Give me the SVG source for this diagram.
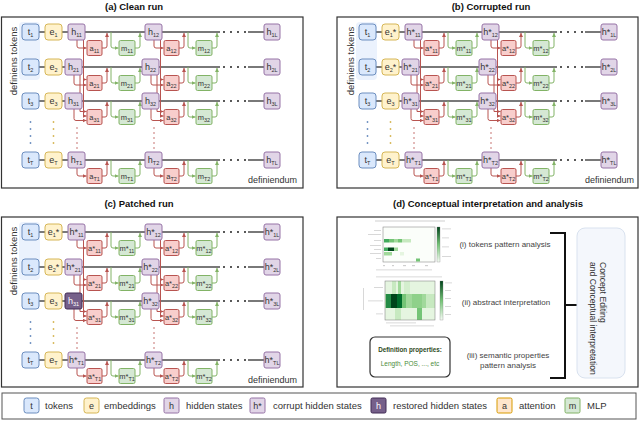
<svg xmlns="http://www.w3.org/2000/svg" width="640" height="422" viewBox="0 0 640 422">
<defs>
<style>
.pb{fill:#fff;stroke:#333;stroke-width:1.2}
.ti{font:bold 9.5px "Liberation Sans",Arial,sans-serif;fill:#111;text-anchor:middle}
.tx{font-family:"Liberation Sans",Arial,sans-serif;fill:#333}
.nt{fill:#dae8fc;stroke:#6c8ebf}
.ne{fill:#fff2cc;stroke:#d6b656}
.nh{fill:#e1d5e7;stroke:#9673a6}
.nr{fill:#76608a;stroke:#432d57}
.na{fill:#f8cecc;stroke:#b85450}
.nm{fill:#d5e8d4;stroke:#82b366}
.l{font:9px "Liberation Sans",Arial,sans-serif;fill:#333;text-anchor:middle}
.l2{font:7.5px "Liberation Sans",Arial,sans-serif;fill:#333;text-anchor:middle}
.w{fill:#fff}
.s{font-size:5.5px}
.rl{fill:none;stroke:#4d4d4d;stroke-width:1.3}
.dt{fill:none;stroke:#222;stroke-width:2;stroke-linecap:round;stroke-dasharray:0 7}
.dv{fill:none;stroke-width:1.8;stroke-linecap:round;stroke-dasharray:0 7}
.rd{fill:none;stroke:#b85450;stroke-width:1.5;stroke-linecap:round;stroke-dasharray:0 5}
.ra{fill:none;stroke:#b85450;stroke-width:1;marker-end:url(#mr)}
.ga{fill:none;stroke:#82b366;stroke-width:1;marker-end:url(#mg)}
.bg{fill:#dae8fc;opacity:.55}
.gb{fill:#cfcfcf}
</style>
<marker id="mr" viewBox="0 0 6 6" refX="6" refY="3" markerWidth="4" markerHeight="4" orient="auto"><path d="M0,0L6,3L0,6z" fill="#b85450"/></marker>
<marker id="mg" viewBox="0 0 6 6" refX="6" refY="3" markerWidth="4" markerHeight="4" orient="auto"><path d="M0,0L6,3L0,6z" fill="#82b366"/></marker>
<linearGradient id="cb" x1="0" y1="1" x2="0" y2="0"><stop offset="0" stop-color="#f7fcf5"/><stop offset=".5" stop-color="#74c476"/><stop offset="1" stop-color="#00441b"/></linearGradient>
<g id="cn">
<path class="rl" d="M39,32H220M248,32H264M39,67H220M248,67H264M39,101H220M248,101H264M39,160H220M248,160H264"/>
<path class="dt" d="M224,32H246M224,67H246M224,101H246M224,160H246"/>
<path class="dv" stroke="#6c8ebf" d="M30.5,122V144"/>
<path class="dv" stroke="#d6b656" d="M53.5,122V144"/>
<path class="rd" d="M77,128V150M154,128V150"/>
<path class="ra" d="M77,40V46Q77,48 79,48H86.5"/>
<path class="ra" d="M154,40V46Q154,48 156,48H163.5"/>
<path class="ra" d="M83.5,40V79.5H86.5"/>
<path class="ra" d="M160.5,40V79.5H163.5"/>
<path class="ra" d="M74,75V83Q74,85 76,85H86.5"/>
<path class="ra" d="M151,75V83Q151,85 153,85H163.5"/>
<path class="ra" d="M80,75V111.5H86.5"/>
<path class="ra" d="M157,75V111.5H163.5"/>
<path class="ra" d="M83.5,79.5V116H86.5"/>
<path class="ra" d="M160.5,79.5V116H163.5"/>
<path class="ra" d="M74,109V118.5Q74,120.5 76,120.5H86.5"/>
<path class="ra" d="M151,109V118.5Q151,120.5 153,120.5H163.5"/>
<path class="ra" d="M77,168V174Q77,176 79,176H86.5"/>
<path class="ra" d="M154,168V174Q154,176 156,176H163.5"/>
<path class="ra" d="M102,48H105Q107,48 107,46V33"/>
<path class="ra" d="M179,48H182Q184,48 184,46V33"/>
<path class="ra" d="M102,83H105Q107,83 107,81V68"/>
<path class="ra" d="M179,83H182Q184,83 184,81V68"/>
<path class="ra" d="M102,117H105Q107,117 107,115V102"/>
<path class="ra" d="M179,117H182Q184,117 184,115V102"/>
<path class="ra" d="M102,176H105Q107,176 107,174V161"/>
<path class="ra" d="M179,176H182Q184,176 184,174V161"/>
<path class="ga" d="M111,32V46Q111,48 113,48H118.5"/>
<path class="ga" d="M188,32V46Q188,48 190,48H195.5"/>
<path class="ga" d="M135,48H138Q140,48 140,46V33"/>
<path class="ga" d="M212,48H215Q217,48 217,46V33"/>
<path class="ga" d="M111,67V81Q111,83 113,83H118.5"/>
<path class="ga" d="M188,67V81Q188,83 190,83H195.5"/>
<path class="ga" d="M135,83H138Q140,83 140,81V68"/>
<path class="ga" d="M212,83H215Q217,83 217,81V68"/>
<path class="ga" d="M111,101V115Q111,117 113,117H118.5"/>
<path class="ga" d="M188,101V115Q188,117 190,117H195.5"/>
<path class="ga" d="M135,117H138Q140,117 140,115V102"/>
<path class="ga" d="M212,117H215Q217,117 217,115V102"/>
<path class="ga" d="M111,160V174Q111,176 113,176H118.5"/>
<path class="ga" d="M188,160V174Q188,176 190,176H195.5"/>
<path class="ga" d="M135,176H138Q140,176 140,174V161"/>
<path class="ga" d="M212,176H215Q217,176 217,174V161"/>
</g>
</defs>

<rect width="640" height="422" fill="#fff"/>

<text class="ti" x="134" y="10">(a) Clean run</text>
<text class="ti" x="491" y="10">(b) Corrupted run</text>
<text class="ti" x="139" y="207">(c) Patched run</text>
<text class="ti" x="488" y="207">(d) Conceptual interpretation and analysis</text>
<rect class="pb" x="1.5" y="17" width="301.5" height="171"/>
<rect class="pb" x="337" y="17" width="301" height="171"/>
<rect class="pb" x="1.5" y="217" width="301.5" height="170"/>
<rect class="pb" x="337" y="217" width="301" height="170"/>

<rect class="bg" x="19" y="22" width="21" height="58" rx="4"/>
<rect class="bg" x="356" y="22" width="21" height="58" rx="4"/>
<rect class="bg" x="19" y="222" width="21" height="58" rx="4"/>
<text class="tx" font-size="9.5" text-anchor="middle" transform="translate(16.5,61) rotate(-90)">definiens tokens</text>
<text class="tx" font-size="9.5" text-anchor="middle" transform="translate(353.5,61) rotate(-90)">definiens tokens</text>
<text class="tx" font-size="9.5" text-anchor="middle" transform="translate(16.5,261) rotate(-90)">definiens tokens</text>
<text class="tx" font-size="9" text-anchor="end" x="297" y="183">definiendum</text>
<text class="tx" font-size="9" text-anchor="end" x="634" y="183">definiendum</text>
<text class="tx" font-size="9" text-anchor="end" x="297" y="383">definiendum</text>

<g id="connectors">
<use href="#cn"/>
<use href="#cn" transform="translate(337,0)"/>
<use href="#cn" transform="translate(0,200)"/>
</g>

<!-- ===== Panel (a) ===== -->
<g id="a-t1"><rect class="nt" x="22" y="24" width="17" height="16" rx="3"/><text class="l" x="30.5" y="35">t<tspan class="s" dy="2">1</tspan></text></g>
<g id="a-e1"><rect class="ne" x="45" y="24" width="17" height="16" rx="3"/><text class="l" x="53.5" y="35">e<tspan class="s" dy="2">1</tspan></text></g>
<g id="a-h11"><rect class="nh" x="68" y="24" width="17" height="16" rx="2"/><text class="l" x="76.5" y="35">h<tspan class="s" dy="2">11</tspan></text></g>
<g id="a-a11"><rect class="na" x="87" y="40.5" width="15" height="15" rx="1.5"/><text class="l2" x="94.5" y="51">a<tspan class="s" dy="2">11</tspan></text></g>
<g id="a-m11"><rect class="nm" x="119" y="40.5" width="16" height="15" rx="1.5"/><text class="l2" x="127" y="51">m<tspan class="s" dy="2">11</tspan></text></g>
<g id="a-h12"><rect class="nh" x="145" y="24" width="17" height="16" rx="2"/><text class="l" x="153.5" y="35">h<tspan class="s" dy="2">12</tspan></text></g>
<g id="a-a12"><rect class="na" x="164" y="40.5" width="15" height="15" rx="1.5"/><text class="l2" x="171.5" y="51">a<tspan class="s" dy="2">12</tspan></text></g>
<g id="a-m12"><rect class="nm" x="196" y="40.5" width="16" height="15" rx="1.5"/><text class="l2" x="204" y="51">m<tspan class="s" dy="2">12</tspan></text></g>
<g id="a-h1L"><rect class="nh" x="264" y="24" width="16" height="16" rx="2"/><text class="l" x="272" y="35">h<tspan class="s" dy="2">1L</tspan></text></g>

<g id="a-t2"><rect class="nt" x="22" y="59" width="17" height="16" rx="3"/><text class="l" x="30.5" y="70">t<tspan class="s" dy="2">2</tspan></text></g>
<g id="a-e2"><rect class="ne" x="45" y="59" width="17" height="16" rx="3"/><text class="l" x="53.5" y="70">e<tspan class="s" dy="2">2</tspan></text></g>
<g id="a-h21"><rect class="nh" x="65" y="59" width="17" height="16" rx="2"/><text class="l" x="73.5" y="70">h<tspan class="s" dy="2">21</tspan></text></g>
<g id="a-a21"><rect class="na" x="87" y="75.5" width="15" height="15" rx="1.5"/><text class="l2" x="94.5" y="86">a<tspan class="s" dy="2">21</tspan></text></g>
<g id="a-m21"><rect class="nm" x="119" y="75.5" width="16" height="15" rx="1.5"/><text class="l2" x="127" y="86">m<tspan class="s" dy="2">21</tspan></text></g>
<g id="a-h22"><rect class="nh" x="142" y="59" width="17" height="16" rx="2"/><text class="l" x="150.5" y="70">h<tspan class="s" dy="2">22</tspan></text></g>
<g id="a-a22"><rect class="na" x="164" y="75.5" width="15" height="15" rx="1.5"/><text class="l2" x="171.5" y="86">a<tspan class="s" dy="2">22</tspan></text></g>
<g id="a-m22"><rect class="nm" x="196" y="75.5" width="16" height="15" rx="1.5"/><text class="l2" x="204" y="86">m<tspan class="s" dy="2">22</tspan></text></g>
<g id="a-h2L"><rect class="nh" x="264" y="59" width="16" height="16" rx="2"/><text class="l" x="272" y="70">h<tspan class="s" dy="2">2L</tspan></text></g>

<g id="a-t3"><rect class="nt" x="22" y="93" width="17" height="16" rx="3"/><text class="l" x="30.5" y="104">t<tspan class="s" dy="2">3</tspan></text></g>
<g id="a-e3"><rect class="ne" x="45" y="93" width="17" height="16" rx="3"/><text class="l" x="53.5" y="104">e<tspan class="s" dy="2">3</tspan></text></g>
<g id="a-h31"><rect class="nh" x="65" y="93" width="17" height="16" rx="2"/><text class="l" x="73.5" y="104">h<tspan class="s" dy="2">31</tspan></text></g>
<g id="a-a31"><rect class="na" x="87" y="109.5" width="15" height="15" rx="1.5"/><text class="l2" x="94.5" y="120">a<tspan class="s" dy="2">31</tspan></text></g>
<g id="a-m31"><rect class="nm" x="119" y="109.5" width="16" height="15" rx="1.5"/><text class="l2" x="127" y="120">m<tspan class="s" dy="2">31</tspan></text></g>
<g id="a-h32"><rect class="nh" x="142" y="93" width="17" height="16" rx="2"/><text class="l" x="150.5" y="104">h<tspan class="s" dy="2">32</tspan></text></g>
<g id="a-a32"><rect class="na" x="164" y="109.5" width="15" height="15" rx="1.5"/><text class="l2" x="171.5" y="120">a<tspan class="s" dy="2">32</tspan></text></g>
<g id="a-m32"><rect class="nm" x="196" y="109.5" width="16" height="15" rx="1.5"/><text class="l2" x="204" y="120">m<tspan class="s" dy="2">32</tspan></text></g>
<g id="a-h3L"><rect class="nh" x="264" y="93" width="16" height="16" rx="2"/><text class="l" x="272" y="104">h<tspan class="s" dy="2">3L</tspan></text></g>

<g id="a-tT"><rect class="nt" x="22" y="152" width="17" height="16" rx="3"/><text class="l" x="30.5" y="163">t<tspan class="s" dy="2">T</tspan></text></g>
<g id="a-eT"><rect class="ne" x="45" y="152" width="17" height="16" rx="3"/><text class="l" x="53.5" y="163">e<tspan class="s" dy="2">T</tspan></text></g>
<g id="a-hT1"><rect class="nh" x="68" y="152" width="17" height="16" rx="2"/><text class="l" x="76.5" y="163">h<tspan class="s" dy="2">T1</tspan></text></g>
<g id="a-aT1"><rect class="na" x="87" y="168.5" width="15" height="15" rx="1.5"/><text class="l2" x="94.5" y="179">a<tspan class="s" dy="2">T1</tspan></text></g>
<g id="a-mT1"><rect class="nm" x="119" y="168.5" width="16" height="15" rx="1.5"/><text class="l2" x="127" y="179">m<tspan class="s" dy="2">T1</tspan></text></g>
<g id="a-hT2"><rect class="nh" x="145" y="152" width="17" height="16" rx="2"/><text class="l" x="153.5" y="163">h<tspan class="s" dy="2">T2</tspan></text></g>
<g id="a-aT2"><rect class="na" x="164" y="168.5" width="15" height="15" rx="1.5"/><text class="l2" x="171.5" y="179">a<tspan class="s" dy="2">T2</tspan></text></g>
<g id="a-mT2"><rect class="nm" x="196" y="168.5" width="16" height="15" rx="1.5"/><text class="l2" x="204" y="179">m<tspan class="s" dy="2">T2</tspan></text></g>
<g id="a-hTL"><rect class="nh" x="264" y="152" width="16" height="16" rx="2"/><text class="l" x="272" y="163">h<tspan class="s" dy="2">TL</tspan></text></g>

<!-- ===== Panel (b) ===== -->
<g id="b-t1"><rect class="nt" x="359" y="24" width="17" height="16" rx="3"/><text class="l" x="367.5" y="35">t<tspan class="s" dy="2">1</tspan></text></g>
<g id="b-e1"><rect class="ne" x="382" y="24" width="17" height="16" rx="3"/><text class="l" x="390.5" y="35">e<tspan class="s" dy="2">1</tspan><tspan dy="-2">*</tspan></text></g>
<g id="b-h11"><rect class="nh" x="405" y="24" width="17" height="16" rx="2"/><text class="l" x="413.5" y="35">h*<tspan class="s" dy="2">11</tspan></text></g>
<g id="b-a11"><rect class="na" x="424" y="40.5" width="15" height="15" rx="1.5"/><text class="l2" x="431.5" y="51">a*<tspan class="s" dy="2">11</tspan></text></g>
<g id="b-m11"><rect class="nm" x="456" y="40.5" width="16" height="15" rx="1.5"/><text class="l2" x="464" y="51">m*<tspan class="s" dy="2">11</tspan></text></g>
<g id="b-h12"><rect class="nh" x="482" y="24" width="17" height="16" rx="2"/><text class="l" x="490.5" y="35">h*<tspan class="s" dy="2">12</tspan></text></g>
<g id="b-a12"><rect class="na" x="501" y="40.5" width="15" height="15" rx="1.5"/><text class="l2" x="508.5" y="51">a*<tspan class="s" dy="2">12</tspan></text></g>
<g id="b-m12"><rect class="nm" x="533" y="40.5" width="16" height="15" rx="1.5"/><text class="l2" x="541" y="51">m*<tspan class="s" dy="2">12</tspan></text></g>
<g id="b-h1L"><rect class="nh" x="601" y="24" width="16" height="16" rx="2"/><text class="l" x="609" y="35">h*<tspan class="s" dy="2">1L</tspan></text></g>

<g id="b-t2"><rect class="nt" x="359" y="59" width="17" height="16" rx="3"/><text class="l" x="367.5" y="70">t<tspan class="s" dy="2">2</tspan></text></g>
<g id="b-e2"><rect class="ne" x="382" y="59" width="17" height="16" rx="3"/><text class="l" x="390.5" y="70">e<tspan class="s" dy="2">2</tspan><tspan dy="-2">*</tspan></text></g>
<g id="b-h21"><rect class="nh" x="402" y="59" width="17" height="16" rx="2"/><text class="l" x="410.5" y="70">h*<tspan class="s" dy="2">21</tspan></text></g>
<g id="b-a21"><rect class="na" x="424" y="75.5" width="15" height="15" rx="1.5"/><text class="l2" x="431.5" y="86">a*<tspan class="s" dy="2">21</tspan></text></g>
<g id="b-m21"><rect class="nm" x="456" y="75.5" width="16" height="15" rx="1.5"/><text class="l2" x="464" y="86">m*<tspan class="s" dy="2">21</tspan></text></g>
<g id="b-h22"><rect class="nh" x="479" y="59" width="17" height="16" rx="2"/><text class="l" x="487.5" y="70">h*<tspan class="s" dy="2">22</tspan></text></g>
<g id="b-a22"><rect class="na" x="501" y="75.5" width="15" height="15" rx="1.5"/><text class="l2" x="508.5" y="86">a*<tspan class="s" dy="2">22</tspan></text></g>
<g id="b-m22"><rect class="nm" x="533" y="75.5" width="16" height="15" rx="1.5"/><text class="l2" x="541" y="86">m*<tspan class="s" dy="2">22</tspan></text></g>
<g id="b-h2L"><rect class="nh" x="601" y="59" width="16" height="16" rx="2"/><text class="l" x="609" y="70">h*<tspan class="s" dy="2">2L</tspan></text></g>

<g id="b-t3"><rect class="nt" x="359" y="93" width="17" height="16" rx="3"/><text class="l" x="367.5" y="104">t<tspan class="s" dy="2">3</tspan></text></g>
<g id="b-e3"><rect class="ne" x="382" y="93" width="17" height="16" rx="3"/><text class="l" x="390.5" y="104">e<tspan class="s" dy="2">3</tspan></text></g>
<g id="b-h31"><rect class="nh" x="402" y="93" width="17" height="16" rx="2"/><text class="l" x="410.5" y="104">h*<tspan class="s" dy="2">31</tspan></text></g>
<g id="b-a31"><rect class="na" x="424" y="109.5" width="15" height="15" rx="1.5"/><text class="l2" x="431.5" y="120">a*<tspan class="s" dy="2">31</tspan></text></g>
<g id="b-m31"><rect class="nm" x="456" y="109.5" width="16" height="15" rx="1.5"/><text class="l2" x="464" y="120">m*<tspan class="s" dy="2">31</tspan></text></g>
<g id="b-h32"><rect class="nh" x="479" y="93" width="17" height="16" rx="2"/><text class="l" x="487.5" y="104">h*<tspan class="s" dy="2">32</tspan></text></g>
<g id="b-a32"><rect class="na" x="501" y="109.5" width="15" height="15" rx="1.5"/><text class="l2" x="508.5" y="120">a*<tspan class="s" dy="2">32</tspan></text></g>
<g id="b-m32"><rect class="nm" x="533" y="109.5" width="16" height="15" rx="1.5"/><text class="l2" x="541" y="120">m*<tspan class="s" dy="2">32</tspan></text></g>
<g id="b-h3L"><rect class="nh" x="601" y="93" width="16" height="16" rx="2"/><text class="l" x="609" y="104">h*<tspan class="s" dy="2">3L</tspan></text></g>

<g id="b-tT"><rect class="nt" x="359" y="152" width="17" height="16" rx="3"/><text class="l" x="367.5" y="163">t<tspan class="s" dy="2">T</tspan></text></g>
<g id="b-eT"><rect class="ne" x="382" y="152" width="17" height="16" rx="3"/><text class="l" x="390.5" y="163">e<tspan class="s" dy="2">T</tspan></text></g>
<g id="b-hT1"><rect class="nh" x="405" y="152" width="17" height="16" rx="2"/><text class="l" x="413.5" y="163">h*<tspan class="s" dy="2">T1</tspan></text></g>
<g id="b-aT1"><rect class="na" x="424" y="168.5" width="15" height="15" rx="1.5"/><text class="l2" x="431.5" y="179">a*<tspan class="s" dy="2">T1</tspan></text></g>
<g id="b-mT1"><rect class="nm" x="456" y="168.5" width="16" height="15" rx="1.5"/><text class="l2" x="464" y="179">m*<tspan class="s" dy="2">T1</tspan></text></g>
<g id="b-hT2"><rect class="nh" x="482" y="152" width="17" height="16" rx="2"/><text class="l" x="490.5" y="163">h*<tspan class="s" dy="2">T2</tspan></text></g>
<g id="b-aT2"><rect class="na" x="501" y="168.5" width="15" height="15" rx="1.5"/><text class="l2" x="508.5" y="179">a*<tspan class="s" dy="2">T2</tspan></text></g>
<g id="b-mT2"><rect class="nm" x="533" y="168.5" width="16" height="15" rx="1.5"/><text class="l2" x="541" y="179">m*<tspan class="s" dy="2">T2</tspan></text></g>
<g id="b-hTL"><rect class="nh" x="601" y="152" width="16" height="16" rx="2"/><text class="l" x="609" y="163">h*<tspan class="s" dy="2">TL</tspan></text></g>

<!-- ===== Panel (c) ===== -->
<g id="c-t1"><rect class="nt" x="22" y="224" width="17" height="16" rx="3"/><text class="l" x="30.5" y="235">t<tspan class="s" dy="2">1</tspan></text></g>
<g id="c-e1"><rect class="ne" x="45" y="224" width="17" height="16" rx="3"/><text class="l" x="53.5" y="235">e<tspan class="s" dy="2">1</tspan><tspan dy="-2">*</tspan></text></g>
<g id="c-h11"><rect class="nh" x="68" y="224" width="17" height="16" rx="2"/><text class="l" x="76.5" y="235">h*<tspan class="s" dy="2">11</tspan></text></g>
<g id="c-a11"><rect class="na" x="87" y="240.5" width="15" height="15" rx="1.5"/><text class="l2" x="94.5" y="251">a*<tspan class="s" dy="2">11</tspan></text></g>
<g id="c-m11"><rect class="nm" x="119" y="240.5" width="16" height="15" rx="1.5"/><text class="l2" x="127" y="251">m*<tspan class="s" dy="2">11</tspan></text></g>
<g id="c-h12"><rect class="nh" x="145" y="224" width="17" height="16" rx="2"/><text class="l" x="153.5" y="235">h*<tspan class="s" dy="2">12</tspan></text></g>
<g id="c-a12"><rect class="na" x="164" y="240.5" width="15" height="15" rx="1.5"/><text class="l2" x="171.5" y="251">a*<tspan class="s" dy="2">12</tspan></text></g>
<g id="c-m12"><rect class="nm" x="196" y="240.5" width="16" height="15" rx="1.5"/><text class="l2" x="204" y="251">m*<tspan class="s" dy="2">12</tspan></text></g>
<g id="c-h1L"><rect class="nh" x="264" y="224" width="16" height="16" rx="2"/><text class="l" x="272" y="235">h*<tspan class="s" dy="2">1L</tspan></text></g>

<g id="c-t2"><rect class="nt" x="22" y="259" width="17" height="16" rx="3"/><text class="l" x="30.5" y="270">t<tspan class="s" dy="2">2</tspan></text></g>
<g id="c-e2"><rect class="ne" x="45" y="259" width="17" height="16" rx="3"/><text class="l" x="53.5" y="270">e<tspan class="s" dy="2">2</tspan><tspan dy="-2">*</tspan></text></g>
<g id="c-h21"><rect class="nh" x="65" y="259" width="17" height="16" rx="2"/><text class="l" x="73.5" y="270">h*<tspan class="s" dy="2">21</tspan></text></g>
<g id="c-a21"><rect class="na" x="87" y="275.5" width="15" height="15" rx="1.5"/><text class="l2" x="94.5" y="286">a*<tspan class="s" dy="2">21</tspan></text></g>
<g id="c-m21"><rect class="nm" x="119" y="275.5" width="16" height="15" rx="1.5"/><text class="l2" x="127" y="286">m*<tspan class="s" dy="2">21</tspan></text></g>
<g id="c-h22"><rect class="nh" x="142" y="259" width="17" height="16" rx="2"/><text class="l" x="150.5" y="270">h*<tspan class="s" dy="2">22</tspan></text></g>
<g id="c-a22"><rect class="na" x="164" y="275.5" width="15" height="15" rx="1.5"/><text class="l2" x="171.5" y="286">a*<tspan class="s" dy="2">22</tspan></text></g>
<g id="c-m22"><rect class="nm" x="196" y="275.5" width="16" height="15" rx="1.5"/><text class="l2" x="204" y="286">m*<tspan class="s" dy="2">22</tspan></text></g>
<g id="c-h2L"><rect class="nh" x="264" y="259" width="16" height="16" rx="2"/><text class="l" x="272" y="270">h*<tspan class="s" dy="2">2L</tspan></text></g>

<g id="c-t3"><rect class="nt" x="22" y="293" width="17" height="16" rx="3"/><text class="l" x="30.5" y="304">t<tspan class="s" dy="2">3</tspan></text></g>
<g id="c-e3"><rect class="ne" x="45" y="293" width="17" height="16" rx="3"/><text class="l" x="53.5" y="304">e<tspan class="s" dy="2">3</tspan></text></g>
<g id="c-h31"><rect class="nr" x="65" y="293" width="17" height="16" rx="2"/><text class="l w" x="73.5" y="304">h<tspan class="s" dy="2">31</tspan></text></g>
<g id="c-a31"><rect class="na" x="87" y="309.5" width="15" height="15" rx="1.5"/><text class="l2" x="94.5" y="320">a*<tspan class="s" dy="2">31</tspan></text></g>
<g id="c-m31"><rect class="nm" x="119" y="309.5" width="16" height="15" rx="1.5"/><text class="l2" x="127" y="320">m*<tspan class="s" dy="2">31</tspan></text></g>
<g id="c-h32"><rect class="nh" x="142" y="293" width="17" height="16" rx="2"/><text class="l" x="150.5" y="304">h*<tspan class="s" dy="2">32</tspan></text></g>
<g id="c-a32"><rect class="na" x="164" y="309.5" width="15" height="15" rx="1.5"/><text class="l2" x="171.5" y="320">a*<tspan class="s" dy="2">32</tspan></text></g>
<g id="c-m32"><rect class="nm" x="196" y="309.5" width="16" height="15" rx="1.5"/><text class="l2" x="204" y="320">m*<tspan class="s" dy="2">32</tspan></text></g>
<g id="c-h3L"><rect class="nh" x="264" y="293" width="16" height="16" rx="2"/><text class="l" x="272" y="304">h*<tspan class="s" dy="2">3L</tspan></text></g>

<g id="c-tT"><rect class="nt" x="22" y="352" width="17" height="16" rx="3"/><text class="l" x="30.5" y="363">t<tspan class="s" dy="2">T</tspan></text></g>
<g id="c-eT"><rect class="ne" x="45" y="352" width="17" height="16" rx="3"/><text class="l" x="53.5" y="363">e<tspan class="s" dy="2">T</tspan></text></g>
<g id="c-hT1"><rect class="nh" x="68" y="352" width="17" height="16" rx="2"/><text class="l" x="76.5" y="363">h*<tspan class="s" dy="2">T1</tspan></text></g>
<g id="c-aT1"><rect class="na" x="87" y="368.5" width="15" height="15" rx="1.5"/><text class="l2" x="94.5" y="379">a*<tspan class="s" dy="2">T1</tspan></text></g>
<g id="c-mT1"><rect class="nm" x="119" y="368.5" width="16" height="15" rx="1.5"/><text class="l2" x="127" y="379">m*<tspan class="s" dy="2">T1</tspan></text></g>
<g id="c-hT2"><rect class="nh" x="145" y="352" width="17" height="16" rx="2"/><text class="l" x="153.5" y="363">h*<tspan class="s" dy="2">T2</tspan></text></g>
<g id="c-aT2"><rect class="na" x="164" y="368.5" width="15" height="15" rx="1.5"/><text class="l2" x="171.5" y="379">a*<tspan class="s" dy="2">T2</tspan></text></g>
<g id="c-mT2"><rect class="nm" x="196" y="368.5" width="16" height="15" rx="1.5"/><text class="l2" x="204" y="379">m*<tspan class="s" dy="2">T2</tspan></text></g>
<g id="c-hTL"><rect class="nh" x="264" y="352" width="16" height="16" rx="2"/><text class="l" x="272" y="363">h*<tspan class="s" dy="2">TL</tspan></text></g>

<!-- ===== Panel (d) ===== -->
<g id="d-heatmap1">
<rect class="gb" x="375" y="220.5" width="70" height="1"/>
<rect x="383" y="227" width="52" height="35" fill="#fbfefa" stroke="#777" stroke-width="0.5"/>
<rect x="384" y="239" width="5" height="3.5" fill="#41ab5d"/>
<rect x="389" y="239" width="5" height="3.5" fill="#74c476"/>
<rect x="394" y="239" width="4" height="3.5" fill="#a1d99b"/>
<rect x="398" y="239" width="4" height="3.5" fill="#74c476"/>
<rect x="402" y="239" width="9" height="3.5" fill="#c7e9c0"/>
<rect x="384" y="247.5" width="4" height="3.5" fill="#41ab5d"/>
<rect x="388" y="247.5" width="6" height="3.5" fill="#00441b"/>
<rect x="394" y="247.5" width="4" height="3.5" fill="#a1d99b"/>
<rect x="384" y="252" width="8" height="3.5" fill="#a1d99b"/>
<rect x="400" y="252" width="4" height="3.5" fill="#e5f5e0"/>
<rect x="416" y="258.5" width="4" height="3" fill="#74c476"/>
<rect x="437" y="227" width="3" height="35" fill="url(#cb)" stroke="#777" stroke-width="0.3"/>
<rect class="gb" x="442" y="228.5" width="9" height="0.8"/>
<rect class="gb" x="442" y="237.5" width="7" height="0.8"/>
<rect class="gb" x="442" y="246.5" width="7" height="0.8"/>
<rect class="gb" x="442" y="256" width="9" height="0.8"/>
<rect class="gb" x="374" y="230" width="7" height="0.8"/>
<rect class="gb" x="368" y="234" width="13" height="0.8"/>
<rect class="gb" x="374" y="240" width="7" height="0.8"/>
<rect class="gb" x="370" y="245" width="11" height="0.8"/>
<rect class="gb" x="374" y="249" width="7" height="0.8"/>
<rect class="gb" x="370" y="253" width="11" height="0.8"/>
<rect class="gb" x="376" y="258" width="5" height="0.8"/>
<rect class="gb" x="383" y="265" width="2" height="1.2"/>
<rect class="gb" x="392" y="265" width="2" height="1.2"/>
<rect class="gb" x="403" y="265" width="3" height="1.2"/>
<rect class="gb" x="412" y="265" width="3" height="1.2"/>
<rect class="gb" x="425" y="265" width="3" height="1.2"/>
<rect class="gb" x="376" y="269.5" width="56" height="0.8"/>
</g>
<g id="d-heatmap2">
<rect class="gb" x="376" y="276.5" width="66" height="0.8"/>
<rect x="385" y="281" width="50" height="13" fill="#e5f5e0"/>
<rect x="392" y="281" width="4" height="13" fill="#c7e9c0"/>
<rect x="398" y="281" width="3" height="13" fill="#a1d99b"/>
<rect x="404" y="281" width="6" height="13" fill="#d3eecd"/>
<rect x="385" y="294" width="50" height="14" fill="#a1d99b"/>
<rect x="386" y="294" width="5" height="14" fill="#238b45"/>
<rect x="391" y="294" width="6" height="14" fill="#00441b"/>
<rect x="397" y="294" width="5" height="14" fill="#006d2c"/>
<rect x="402" y="294" width="4" height="14" fill="#74c476"/>
<rect x="412" y="294" width="10" height="14" fill="#8fd18a"/>
<rect x="426" y="294" width="9" height="14" fill="#c7e9c0"/>
<rect x="385" y="308" width="50" height="12" fill="#e5f5e0"/>
<rect x="395" y="308" width="6" height="12" fill="#c7e9c0"/>
<rect x="417" y="308" width="5" height="12" fill="#74c476"/>
<rect x="385" y="281" width="50" height="39" fill="none" stroke="#777" stroke-width="0.5"/>
<rect x="440" y="281" width="3" height="39" fill="url(#cb)" stroke="#777" stroke-width="0.3"/>
<rect class="gb" x="445" y="282.5" width="7" height="0.8"/>
<rect class="gb" x="445" y="290" width="6" height="0.8"/>
<rect class="gb" x="445" y="298" width="6" height="0.8"/>
<rect class="gb" x="445" y="306" width="6" height="0.8"/>
<rect class="gb" x="445" y="314" width="6" height="0.8"/>
<rect class="gb" x="374" y="287" width="9" height="0.8"/>
<rect class="gb" x="368" y="300.5" width="15" height="0.8"/>
<rect class="gb" x="376" y="313.5" width="7" height="0.8"/>
<rect class="gb" x="363" y="288" width="0.8" height="22"/>
<rect class="gb" x="386" y="322.5" width="30" height="0.8"/>
<rect class="gb" x="390" y="325.5" width="44" height="0.8"/>
</g>
<g id="d-defprops">
<rect x="370" y="337" width="80" height="40" rx="5" fill="#fff" stroke="#333" stroke-width="1.2"/>
<text class="tx" font-size="6.3" font-weight="bold" text-anchor="middle" x="410" y="352" style="fill:#2e4a22">Definition properties:</text>
<text class="tx" font-size="6.5" text-anchor="middle" x="410" y="366" style="fill:#4b8b3b">Length, POS, ..., etc</text>
</g>
<g id="d-labels" class="tx" font-size="8" text-anchor="middle" style="fill:#444">
<text x="505" y="247">(i) tokens pattern analysis</text>
<text x="506" y="305">(ii) abstract interpretation</text>
<text x="508" y="358">(iii) semantic properties</text>
<text x="508" y="368">pattern analysis</text>
</g>
<g id="d-bracket"><path d="M550,233H565V378H550M565,305H577" fill="none" stroke="#111" stroke-width="2"/></g>
<g id="d-concept">
<rect x="577" y="228" width="48" height="150" rx="8" fill="#f4f7fc" stroke="#d9e2ef" stroke-width="1"/>
<text class="tx" font-size="8.6" transform="translate(600,262) rotate(90)"><tspan x="0" y="0">Concept Editing</tspan><tspan x="0" y="10">and Conceptual interpretation</tspan></text>
</g>

<!-- ===== Legend ===== -->
<g id="legend">
<rect x="2" y="393" width="634" height="26" fill="#fff" stroke="#555" stroke-width="1"/>
<g class="tx" font-size="9.5">
<rect class="nt" x="24" y="398" width="15" height="15" rx="2.5"/><text class="l" x="31.5" y="409">t</text><text x="45" y="409">tokens</text>
<rect class="ne" x="84" y="398" width="15" height="15" rx="2.5"/><text class="l" x="91.5" y="409">e</text><text x="104" y="409">embeddings</text>
<rect class="nh" x="164" y="398" width="15" height="15" rx="1.5"/><text class="l" x="171.5" y="409">h</text><text x="186" y="409">hidden states</text>
<rect class="nh" x="250" y="398" width="15" height="15" rx="1.5"/><text class="l" x="257.5" y="409">h*</text><text x="273" y="409">corrupt hidden states</text>
<rect class="nr" x="371" y="398" width="15" height="15" rx="1.5"/><text class="l w" x="378.5" y="409">h</text><text x="393" y="409">restored hidden states</text>
<rect x="497" y="398" width="15" height="15" rx="1.5" fill="#ffe6cc" stroke="#d79b00"/><text class="l" x="504.5" y="409">a</text><text x="519" y="409">attention</text>
<rect class="nm" x="565" y="398" width="15" height="15" rx="1.5"/><text class="l" x="572.5" y="409">m</text><text x="587" y="409">MLP</text>
</g>
</g>
</svg>
